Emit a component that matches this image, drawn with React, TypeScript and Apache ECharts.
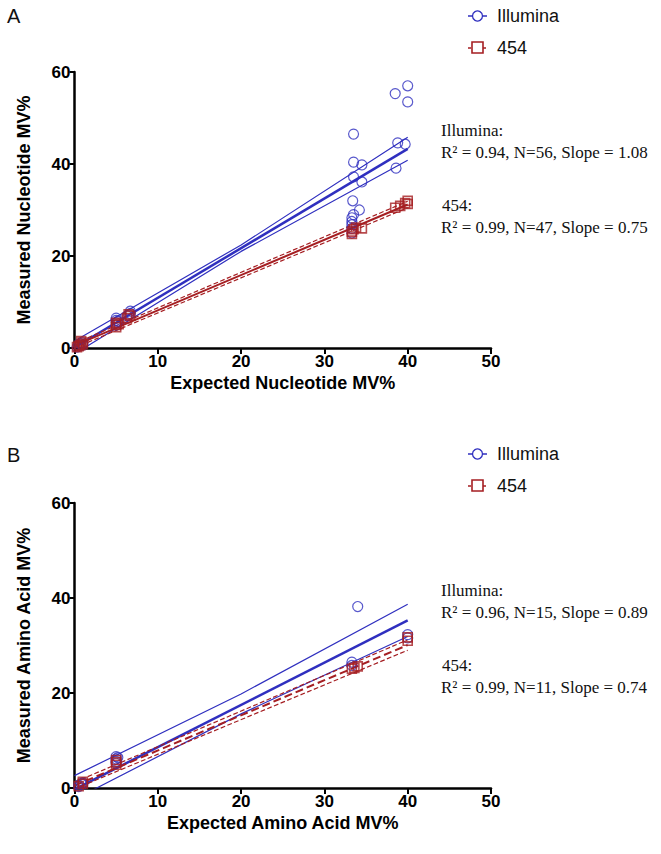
import React, { useEffect, useRef } from "react";
import * as echarts from "echarts";

// ---------- data ----------
const xTicks = [0, 10, 20, 30, 40, 50];
const yTicks = [0, 20, 40, 60];

// Panel A (nucleotide)
const illuminaA: [number, number][] = [
  [0.3, 0.2], [0.5, 0.5], [0.7, 0.9], [1, 1.1], [1, 0.6],
  [5, 5], [5, 5.5], [5, 6], [5, 6.5], [5.2, 5.8],
  [6.3, 7], [6.7, 7.5], [6.7, 8], [6.5, 7.2],
  [33.3, 25], [33.3, 26], [33.3, 26.8], [33.3, 27.5], [33.3, 28.3], [33.5, 29],
  [34.2, 30], [33.4, 32], [33.5, 37.2], [33.5, 40.4], [33.5, 46.5],
  [34.5, 39.8], [34.5, 36.1],
  [38.5, 55.3], [38.6, 39.1], [38.8, 44.6],
  [40, 57], [40, 53.5], [39.7, 44.3],
];
const seq454A: [number, number][] = [
  [0.3, 0.2], [0.5, 0.4], [0.7, 0.6], [1, 0.8], [1, 1.2], [0.8, 1.5],
  [5, 4.5], [5, 5], [5, 5.5], [5.3, 5.2],
  [6.3, 6.5], [6.7, 7], [6.5, 7.3],
  [33.3, 24.8], [33.3, 25.3], [33.5, 25.8], [33.8, 26.2], [34.5, 26],
  [38.5, 30.5], [39.1, 30.9], [39.7, 31.5], [40, 32], [40, 31.3],
];
const illuminaFitA: [number, number][] = [[0, 0.1], [40, 43.3]];
const illuminaUpperA: [number, number][] = [[0, 1.5], [20, 22.4], [40, 45.8]];
const illuminaLowerA: [number, number][] = [[0, -1.3], [20, 21.0], [40, 40.8]];
const fit454A: [number, number][] = [[0, 0.5], [40, 31.2]];
const upper454A: [number, number][] = [[0, 1.0], [40, 31.9]];
const lower454A: [number, number][] = [[0, 0.0], [40, 30.5]];

// Panel B (amino acid)
const illuminaB: [number, number][] = [
  [0.5, 0.6], [0.5, 0.3], [1, 1.1], [1, 0.8], [0.8, 0.9],
  [5, 6.6], [5, 6.1], [5, 5.6], [5, 5.2], [5.2, 6.4],
  [33.3, 25.8], [33.3, 26.5], [34, 38.2], [40, 32.3], [40, 31.6],
];
const seq454B: [number, number][] = [
  [0.5, 0.4], [1, 0.9], [1, 1.3], [5, 4.9], [5, 5.4], [5, 5.9],
  [33.3, 25.1], [34, 25.6], [33.6, 25.3], [40, 31.0], [40, 31.7],
];
const illuminaFitB: [number, number][] = [[0, -0.3], [40, 35.3]];
const illuminaUpperB: [number, number][] = [[0, 2.6], [20, 19.8], [40, 38.7]];
const illuminaLowerB: [number, number][] = [[0, -2.4], [20, 15.6], [40, 31.9]];
const fit454B: [number, number][] = [[0, 0.5], [40, 30.1]];
const upper454B: [number, number][] = [[0, 1.2], [40, 31.2]];
const lower454B: [number, number][] = [[0, -0.2], [40, 29.0]];

const statsA = {
  illumina: "R² = 0.94, N=56, Slope = 1.08",
  s454: "R² = 0.99, N=47, Slope = 0.75",
};
const statsB = {
  illumina: "R² = 0.96, N=15, Slope = 0.89",
  s454: "R² = 0.99, N=11, Slope = 0.74",
};

// ---------- style ----------
const BLUE = "#2f2fbf";
const RED = "#a51e22";
const SANS = "'Liberation Sans', Arial, sans-serif";
const SERIF = "'Liberation Serif', 'Times New Roman', serif";

function xAxisCfg(name: string, gridIndex: number) {
  return {
    type: "value",
    gridIndex,
    min: xTicks[0],
    max: xTicks[xTicks.length - 1],
    interval: 10,
    name,
    nameLocation: "middle",
    nameGap: 26,
    nameTextStyle: { fontFamily: SANS, fontWeight: "bold", fontSize: 18, color: "#000" },
    axisLine: { show: true, onZero: false, lineStyle: { color: "#000", width: 2.5 } },
    axisTick: { show: true, length: 6, lineStyle: { color: "#000", width: 2 } },
    axisLabel: { margin: 5, fontFamily: SANS, fontWeight: "bold", fontSize: 17, color: "#000" },
    splitLine: { show: false },
  };
}
function yAxisCfg(name: string, gridIndex: number) {
  return {
    type: "value",
    gridIndex,
    min: yTicks[0],
    max: yTicks[yTicks.length - 1],
    interval: 20,
    name,
    nameLocation: "middle",
    nameGap: 42,
    nameTextStyle: { fontFamily: SANS, fontWeight: "bold", fontSize: 18, color: "#000" },
    axisLine: { show: true, onZero: false, lineStyle: { color: "#000", width: 2.5 } },
    axisTick: { show: true, length: 5, lineStyle: { color: "#000", width: 2 } },
    axisLabel: { margin: 4, fontFamily: SANS, fontWeight: "bold", fontSize: 17, color: "#000" },
    splitLine: { show: false },
  };
}

function lineSeries(data: [number, number][], idx: number, color: string, width: number, type: string) {
  return {
    type: "line",
    xAxisIndex: idx,
    yAxisIndex: idx,
    data,
    showSymbol: false,
    symbol: "none",
    silent: true,
    clip: true,
    lineStyle: { color, width, type },
    z: 2,
  };
}
function circleSeries(data: [number, number][], idx: number) {
  return {
    type: "scatter",
    xAxisIndex: idx,
    yAxisIndex: idx,
    data,
    symbol: "circle",
    symbolSize: 10,
    itemStyle: { color: "rgba(0,0,0,0)", borderColor: BLUE, borderWidth: 1.2 },
    z: 3,
  };
}
function squareSeries(data: [number, number][], idx: number) {
  return {
    type: "scatter",
    xAxisIndex: idx,
    yAxisIndex: idx,
    data,
    symbol: "rect",
    symbolSize: 9,
    itemStyle: { color: "rgba(0,0,0,0)", borderColor: RED, borderWidth: 1.6 },
    z: 4,
  };
}

function legendGraphics(top: number) {
  const lx = 468;
  return [
    { type: "line", shape: { x1: lx, y1: top, x2: lx + 19, y2: top }, style: { stroke: BLUE, lineWidth: 1.5 } },
    { type: "circle", shape: { cx: lx + 9.5, cy: top, r: 5 }, style: { stroke: BLUE, fill: "#fff", lineWidth: 1.3 } },
    { type: "text", x: 497, y: top, style: { text: "Illumina", font: `18px ${SANS}`, fill: "#111", textVerticalAlign: "middle" } },
    { type: "line", shape: { x1: lx, y1: top + 32, x2: lx + 19, y2: top + 32 }, style: { stroke: RED, lineWidth: 1.5, lineDash: [3, 2] } },
    { type: "rect", shape: { x: lx + 4, y: top + 26, width: 11, height: 11 }, style: { stroke: RED, fill: "#fff", lineWidth: 1.6 } },
    { type: "text", x: 497, y: top + 32, style: { text: "454", font: `18px ${SANS}`, fill: "#111", textVerticalAlign: "middle" } },
  ];
}
function statGraphics(top: number, stats: { illumina: string; s454: string }) {
  const f = `17px ${SERIF}`;
  return [
    { type: "text", x: 441, y: top, style: { text: "Illumina:", font: f, fill: "#111", textVerticalAlign: "middle" } },
    { type: "text", x: 441, y: top + 22, style: { text: stats.illumina, font: f, fill: "#111", textVerticalAlign: "middle" } },
    { type: "text", x: 442, y: top + 75, style: { text: "454:", font: f, fill: "#111", textVerticalAlign: "middle" } },
    { type: "text", x: 441, y: top + 97, style: { text: stats.s454, font: f, fill: "#111", textVerticalAlign: "middle" } },
  ];
}

export default function App() {
  const ref = useRef<HTMLDivElement>(null);
  useEffect(() => {
    if (!ref.current) return;
    const chart = echarts.init(ref.current, null, { renderer: "svg" });
    chart.setOption({
      animation: false,
      backgroundColor: "#fff",
      grid: [
        { left: 74.5, top: 72, width: 416.5, height: 276 },
        { left: 74.5, top: 503, width: 416.5, height: 285 },
      ],
      xAxis: [xAxisCfg("Expected Nucleotide MV%", 0), xAxisCfg("Expected Amino Acid MV%", 1)],
      yAxis: [yAxisCfg("Measured Nucleotide MV%", 0), yAxisCfg("Measured Amino Acid MV%", 1)],
      series: [
        lineSeries(illuminaFitA, 0, BLUE, 2.5, "solid"),
        lineSeries(illuminaUpperA, 0, BLUE, 1.2, "solid"),
        lineSeries(illuminaLowerA, 0, BLUE, 1.2, "solid"),
        lineSeries(fit454A, 0, RED, 2, "solid"),
        lineSeries(upper454A, 0, RED, 1.2, "dashed"),
        lineSeries(lower454A, 0, RED, 1.2, "dashed"),
        circleSeries(illuminaA, 0),
        squareSeries(seq454A, 0),
        lineSeries(illuminaFitB, 1, BLUE, 2.5, "solid"),
        lineSeries(illuminaUpperB, 1, BLUE, 1.2, "solid"),
        lineSeries(illuminaLowerB, 1, BLUE, 1.2, "solid"),
        lineSeries(fit454B, 1, RED, 2, "dashed"),
        lineSeries(upper454B, 1, RED, 1.2, "dashed"),
        lineSeries(lower454B, 1, RED, 1.2, "dashed"),
        circleSeries(illuminaB, 1),
        squareSeries(seq454B, 1),
      ],
      graphic: [
        { type: "text", x: 7, y: 16, style: { text: "A", font: `20px ${SANS}`, fill: "#111", textVerticalAlign: "middle" } },
        { type: "text", x: 7, y: 455, style: { text: "B", font: `20px ${SANS}`, fill: "#111", textVerticalAlign: "middle" } },
        ...legendGraphics(16),
        ...legendGraphics(454),
        ...statGraphics(130, statsA),
        ...statGraphics(590, statsB),
      ],
    });
    return () => chart.dispose();
  }, []);
  return (
    <div
      ref={ref}
      style={{ position: "absolute", left: 0, top: 0, width: 661, height: 854, background: "#fff" }}
    />
  );
}
